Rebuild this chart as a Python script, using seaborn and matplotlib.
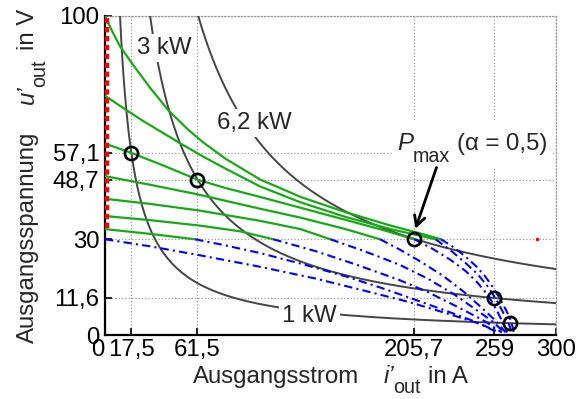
import numpy as np
import matplotlib
matplotlib.use("Agg")
import matplotlib.pyplot as plt
import matplotlib.transforms as mtransforms
import seaborn as sns
from matplotlib.patches import Rectangle

# ---------------- data ----------------
x_ticks = [0, 17.5, 61.5, 205.7, 259, 300]
x_tick_labels = ["0", "17,5", "61,5", "205,7", "259", "300"]
y_ticks = [0, 11.6, 30, 48.7, 57.1, 100]
y_tick_labels = ["0", "11,6", "30", "48,7", "57,1", "100"]

# constant output power curves (kW)
power_kw = [1, 3, 6.2]
power_labels = ["1 kW", "3 kW", "6,2 kW"]

# output characteristics u'(i'), one list pair per curve
c1_i = [0, 5, 10, 18.8, 30, 42, 55, 65, 80, 103, 130, 160, 190, 210, 223.5,
        232, 240, 247, 253, 258, 262, 266, 269, 271, 272]
c1_u = [100, 95, 90.5, 84.6, 77.5, 70.5, 64.5, 60.5, 55.3, 48.8, 43.3, 38.5, 34.3, 31.8, 30,
        27.5, 24.5, 21.5, 18.3, 15, 12, 8.5, 5.7, 2.8, 0.8]
c2_i = [0, 12, 25, 38, 50, 65, 80, 103, 130, 160, 190, 220,
        230, 240, 248, 255, 261, 266, 269, 270.5]
c2_u = [75, 71.2, 67.2, 63.5, 60.1, 56, 52.2, 46.6, 41.6, 37, 33.2, 30,
        26.5, 22.5, 19, 15, 10.5, 6, 3, 0.8]
c3_i = [0, 17.5, 40, 61.5, 80, 103, 130, 160, 185, 205.7,
        218, 230, 240, 248, 255, 260, 264, 267.5]
c3_u = [60, 57.1, 52.9, 48.7, 46.1, 43.3, 39.9, 36.1, 32.9, 30,
        27, 23.5, 20, 16.3, 12.3, 8.3, 4.5, 0.8]
c4_i = [0, 30, 61.5, 103, 130, 160, 183, 196, 210, 225, 238, 250, 260, 266.5]
c4_u = [49.8, 47.1, 44.1, 39.6, 36.8, 33.2, 30, 26.8, 23, 18.5, 13.8, 8.8, 4.4, 0.8]
c5_i = [0, 30, 63, 103, 130, 150, 170, 183, 196, 215, 232, 246, 258, 265.5]
c5_u = [42.7, 41.1, 39, 35.8, 33.2, 30, 26.7, 24.4, 22, 17.6, 12.8, 8.2, 4.2, 0.8]
c6_i = [0, 30, 63, 90, 112, 140, 165, 183, 196, 215, 235, 252, 264]
c6_u = [37.3, 36, 34.3, 32.5, 30, 26.3, 22.4, 19.4, 17.2, 13.4, 8.7, 4.5, 0.8]
c7_i = [0, 30, 60, 80, 103, 130, 160, 183, 202.5, 225, 245, 262.5]
c7_u = [33.2, 31.7, 30, 28.1, 25.7, 22.4, 18.4, 14.9, 11.7, 7.9, 4.4, 0.8]
c8_i = [0, 30, 63, 103, 140, 170, 202.5, 230, 250, 261]
c8_u = [30, 27.8, 25, 21.4, 17.7, 14.2, 10.3, 6.4, 3.4, 0.8]

curves_i = [c1_i, c2_i, c3_i, c4_i, c5_i, c6_i, c7_i, c8_i]
curves_u = [c1_u, c2_u, c3_u, c4_u, c5_u, c6_u, c7_u, c8_u]

u_min = 30.0  # lower voltage limit: valid region above, drawn solid green

# marked operating points
op_i = [17.5, 61.5, 205.7, 259, 269.5]
op_u = [57.1, 48.7, 30, 11.6, 3.7]

# no-load branch
red_i = [1.0, 1.0]
red_u = [33.5, 100]
dot_i = [287.5]
dot_u = [30]

# ---------------- style ----------------
sns.set_theme(style="ticks")
plt.rcParams["font.family"] = ["Liberation Sans", "DejaVu Sans"]
FS = 17.3
FS_SUB = 14.2
W, H = 578, 399

fig = plt.figure(figsize=(W / 100, H / 100), dpi=100)
ax = fig.add_axes([105 / W, 1 - 335 / H, (556 - 105) / W, (335 - 16) / H])
ax.set_xlim(0, 300)
ax.set_ylim(0, 100)

GREEN = "#18a818"
BLUE = "#0000ff"
GRAY = "#454545"

# output characteristics
for ci, cu in zip(curves_i, curves_u):
    ci = np.asarray(ci, float)
    cu = np.asarray(cu, float)
    top = cu >= u_min
    low = cu <= u_min
    if top.sum() > 1:
        sns.lineplot(x=ci[top], y=cu[top], ax=ax, color=GREEN, lw=1.6,
                     estimator=None, sort=False, legend=False, zorder=4)
    if low.sum() > 1:
        sns.lineplot(x=ci[low], y=cu[low], ax=ax, color=BLUE, lw=1.5,
                     linestyle=(0, (4, 2, 1, 2)),
                     estimator=None, sort=False, legend=False, zorder=4)

# constant power hyperbolas
for p in power_kw:
    ii = np.linspace(p * 1000 / 100, 300, 400)
    sns.lineplot(x=ii, y=p * 1000 / ii, ax=ax, color=GRAY, lw=1.4,
                 estimator=None, sort=False, legend=False, zorder=3)

# no-load branch
sns.lineplot(x=red_i, y=red_u, ax=ax, color="red", lw=3.2,
             linestyle=(0, (1.2, 0.8)), estimator=None, sort=False,
             legend=False, zorder=6)
ax.plot(dot_i, dot_u, "s", color="red", ms=1.3, zorder=6)

# operating points
ax.plot(op_i, op_u, "o", mfc="none", mec="black", ms=9.5, mew=1.9, zorder=7)

# inline power labels
label_box = dict(fc="white", ec="none", pad=2.5)
label_pos = {"1 kW": (136, 5.8), "3 kW": (39.5, 90.0), "6,2 kW": (99.5, 66.5)}
for lab in power_labels:
    x, y = label_pos[lab]
    ax.text(x, y, lab, fontsize=FS, ha="center", va="center",
            bbox=label_box, zorder=8)


def fx(px):
    return px / W


def fy(py):
    return 1 - py / H


# P_max annotation
ax.add_patch(Rectangle((fx(393), fy(168)), (553 - 393) / W, (168 - 120) / H,
                       transform=fig.transFigure, fc="white", ec="none",
                       zorder=8, clip_on=False))
ax.text(fx(397), fy(150), "P", style="italic", fontsize=FS,
        transform=fig.transFigure, ha="left", va="baseline", zorder=9)
ax.text(fx(413), fy(162), "max", fontsize=FS_SUB,
        transform=fig.transFigure, ha="left", va="baseline", zorder=9)
ax.text(fx(457), fy(150), "(α = 0,5)", fontsize=FS,
        transform=fig.transFigure, ha="left", va="baseline", zorder=9)
ax.annotate("", xy=(206.5, 33.3), xytext=(220.5, 52.5),
            arrowprops=dict(arrowstyle="->,head_length=0.6,head_width=0.32",
                            lw=2.0, color="black", shrinkA=0, shrinkB=0),
            zorder=9)

# axes, ticks, grid
ax.set_xticks(x_ticks)
ax.set_xticklabels(x_tick_labels, fontsize=FS)
ax.set_yticks(y_ticks)
ax.set_yticklabels(y_tick_labels, fontsize=FS)
ax.get_xticklabels()[0].set_ha("right")
# nudge the two lowest y labels a little to the left
for lab, shift_px in zip(ax.get_yticklabels()[:3], [13, 0, 7]):
    if shift_px:
        lab.set_transform(lab.get_transform() +
                          mtransforms.ScaledTranslation(-shift_px / 100, 0,
                                                        fig.dpi_scale_trans))
ax.tick_params(axis="both", direction="in", length=5, width=1.2, colors="black")
ax.tick_params(axis="x", pad=3)
ax.tick_params(axis="y", pad=4)
ax.grid(True, linestyle=":", color="#9a9a9a", lw=0.9)
ax.set_axisbelow(True)
for s in ["left", "bottom"]:
    ax.spines[s].set_color("black")
    ax.spines[s].set_linewidth(1.6)
for s in ["top", "right"]:
    ax.spines[s].set_color("#9a9a9a")
    ax.spines[s].set_linestyle(":")
    ax.spines[s].set_linewidth(0.9)
ax.set_facecolor("white")

# axis titles with italic symbols and lowered subscripts
fig.text(fx(193), fy(383), "Ausgangsstrom", fontsize=FS, ha="left", va="baseline")
fig.text(fx(384), fy(383), "i\u2019", style="italic", fontsize=FS, ha="left", va="baseline")
fig.text(fx(393), fy(393), "out", fontsize=FS_SUB, ha="left", va="baseline")
fig.text(fx(428), fy(383), "in A", fontsize=FS, ha="left", va="baseline")

rot = dict(rotation=90, rotation_mode="anchor", ha="left", va="baseline")
fig.text(fx(34), fy(343), "Ausgangsspannung", fontsize=FS, **rot)
fig.text(fx(34), fy(104), "u\u2019", style="italic", fontsize=FS, **rot)
fig.text(fx(45), fy(87), "out", fontsize=FS_SUB, **rot)
fig.text(fx(34), fy(50), "in V", fontsize=FS, **rot)

fig.savefig("out.png", dpi=100, facecolor="white")
